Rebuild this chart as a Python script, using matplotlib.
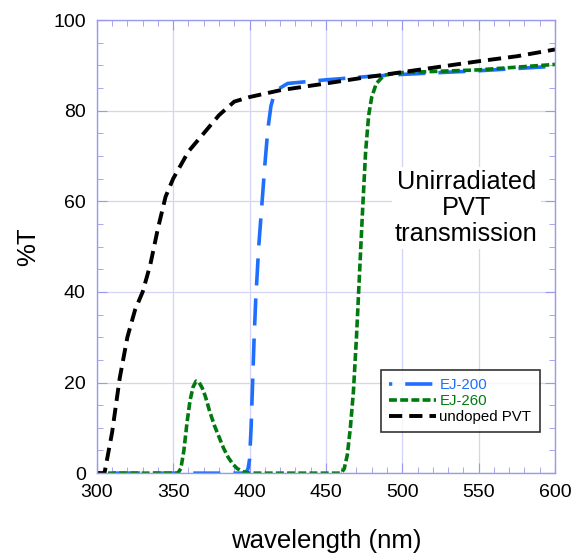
import matplotlib
matplotlib.use("Agg")
import matplotlib.pyplot as plt
from matplotlib.ticker import MultipleLocator

plt.rcParams['font.family'] = ['Liberation Sans', 'DejaVu Sans']

# transmission curves (%T vs wavelength in nm)
wl_undoped = [300, 305, 310, 315, 320, 325, 330, 335, 340, 345, 350, 355, 360, 370, 380,
              390, 400, 420, 450, 475, 500, 525, 550, 575, 600]
t_undoped = [0, 0, 9, 21, 30, 36, 40, 46, 54, 61, 65, 68, 71, 75, 79,
             82, 83, 84.5, 86, 87.3, 88.5, 89.7, 90.9, 92.0, 93.5]

wl_ej200 = [300, 396, 398, 399, 400, 401, 402, 403, 404, 406, 408, 410, 412, 414, 416,
            420, 425, 450, 480, 500, 550, 600]
t_ej200 = [0, 0, 0.3, 1, 3, 10, 20, 30, 38, 50, 59, 68, 76, 81, 83.5,
           85, 86, 86.8, 87.6, 88.0, 88.8, 89.8]

wl_ej260 = [300, 353, 355, 357, 359, 361, 363, 365, 367, 369, 371, 374, 377, 380, 383,
            386, 389, 392, 396, 400, 460, 462, 464, 466, 468, 470, 472, 474, 476, 478,
            480, 483, 488, 495, 500, 550, 600]
t_ej260 = [0, 0, 1, 5, 11, 16, 19, 20.3, 20, 18.8, 17, 13.5, 10.5, 8, 5.5,
           3.5, 2, 1, 0.3, 0, 0, 1, 4, 10, 18, 30, 44, 58, 71, 79,
           83, 86, 87.8, 88.2, 88.4, 89, 90.2]

fig = plt.figure(figsize=(5.73, 5.56), dpi=100)
ax = fig.add_axes([0.169, 0.149, 0.7996, 0.815])

ax.plot(wl_ej200, t_ej200, color='#1f6fff', lw=2.6, ls=(6.6, (7.5, 3.6)), label='EJ-200')
ax.plot(wl_ej260, t_ej260, color='#007a0f', lw=2.6, dashes=(2.2, 0.9), label='EJ-260')
ax.plot(wl_undoped, t_undoped, color='black', lw=2.8, dashes=(3.4, 1.8), label='undoped PVT')

ax.set_xlim(300, 600)
ax.set_ylim(0, 100)
ax.xaxis.set_major_locator(MultipleLocator(50))
ax.xaxis.set_minor_locator(MultipleLocator(10))
ax.yaxis.set_major_locator(MultipleLocator(20))
ax.yaxis.set_minor_locator(MultipleLocator(5))

edge = '#9999f0'
for s in ax.spines.values():
    s.set_color(edge)
    s.set_linewidth(1.0)
ax.tick_params(which='both', direction='in', top=True, right=True, color=edge, labelsize=14, pad=8)
ax.tick_params(which='major', length=7)
ax.tick_params(which='minor', length=4)
ax.grid(True, which='major', color='#d4d4f7', lw=0.9)
ax.set_axisbelow(True)

ax.set_xlabel('wavelength (nm)', fontsize=18.5, labelpad=20)
ax.set_ylabel('%T', fontsize=18.5, labelpad=9)

ax.text(542, 58.5, 'Unirradiated\nPVT\ntransmission', ha='center', va='center', fontsize=18.3,
        linespacing=1.1, bbox=dict(facecolor='white', edgecolor='none', pad=2))

leg = ax.legend(loc='lower right', bbox_to_anchor=(0.983, 0.074), fontsize=10.8,
                frameon=True, fancybox=False, handlelength=3.1, handletextpad=0.25,
                borderpad=0.55, labelspacing=0.12)
leg.get_frame().set_edgecolor('black')
leg.get_frame().set_linewidth(1.2)
for txt, line in zip(leg.get_texts(), leg.get_lines()):
    txt.set_color(line.get_color())

fig.savefig('out.png', dpi=100)
